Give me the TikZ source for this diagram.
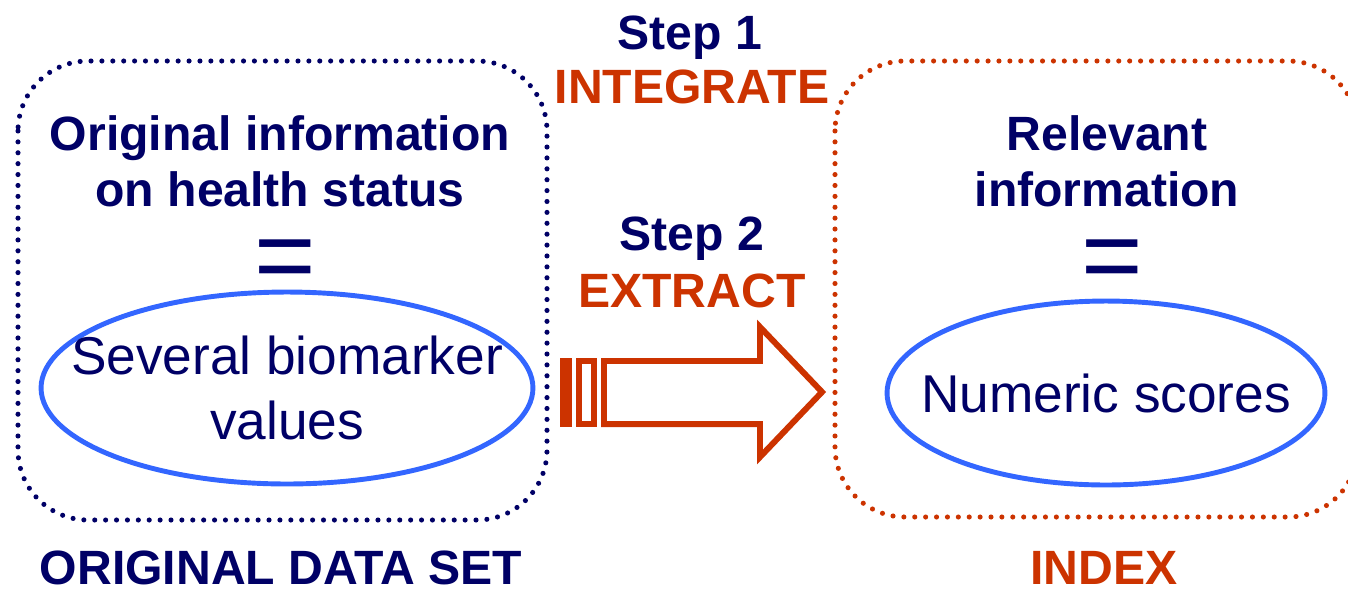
\documentclass[tikz,border=0pt]{standalone}
\usepackage{fontspec}
\setmainfont{Liberation Sans}
\usetikzlibrary{positioning, shapes.geometric}
\definecolor{navy}{RGB}{0,0,102}
\definecolor{rust}{RGB}{204,51,0}
\definecolor{ovalblue}{RGB}{51,102,255}

\begin{document}
\begin{tikzpicture}[x=0.02cm, y=-0.02cm,
  head/.style={font=\fontsize{27.4}{32}\selectfont\bfseries, text=navy, anchor=base, inner sep=0pt},
  plain/.style={font=\fontsize{30.3}{37}\selectfont, text=navy, align=center, inner sep=0pt},
  eqsign/.style={font=\fontsize{60}{60}\selectfont, text=navy, anchor=base, inner sep=0pt},
  dotbox/.style={line width=2.9pt, line cap=round, dash pattern=on 0pt off 6.2pt, rounded corners=1.4cm},
  oval/.style={ellipse, draw=ovalblue, line width=2.8pt, inner sep=0pt},
  stripe/.style={draw=rust, line width=3.4pt, line join=miter}]
\useasboundingbox (0,0) rectangle (1348,593);
% dotted frames
\draw[dotbox, navy] (18,61) rectangle (547,520);
\draw[dotbox, rust] (835,61) rectangle (1358,517);
% step labels
\node (step1) [head] at (690,49) {Step 1};
\node (integ) [head, text=rust] at (692,103) {INTEGRATE};
\node (step2) [head] at (692,250) {Step 2};
\node (extract) [head, text=rust] at (692,307) {EXTRACT};
% left side
\node (orig1) [head] at (280,150) {Original information};
\node (orig2) [head] at (280,206) {on health status};
\node (eqOrig) [eqsign] at (285,291) {=};
\node (bioOval) [oval, minimum width=9.84cm, minimum height=3.84cm] at (287,388) {};
\node (bioText) [plain] at (bioOval) {Several biomarker\\values};
\node (dataset) [head] at (281,584) {ORIGINAL DATA SET};
% right side
\node (rel1) [head] at (1107,150) {Relevant};
\node (rel2) [head] at (1107,206) {information};
\node (eqRel) [eqsign] at (1112,291) {=};
\node (scoreOval) [oval, minimum width=8.76cm, minimum height=3.68cm] at (1106,393) {};
\node (scoreText) [plain] at (scoreOval) {Numeric scores};
\node (index) [head, text=rust] at (1104,584) {INDEX};
% striped block arrow
\draw[stripe] (563,361) rectangle (569,424);
\draw[stripe] (579,361) rectangle (594,424);
\draw[stripe] (604,361) -- (760,361) -- (760,327) -- (822,392) -- (760,457) -- (760,424) -- (604,424) -- cycle;
\end{tikzpicture}
\end{document}
